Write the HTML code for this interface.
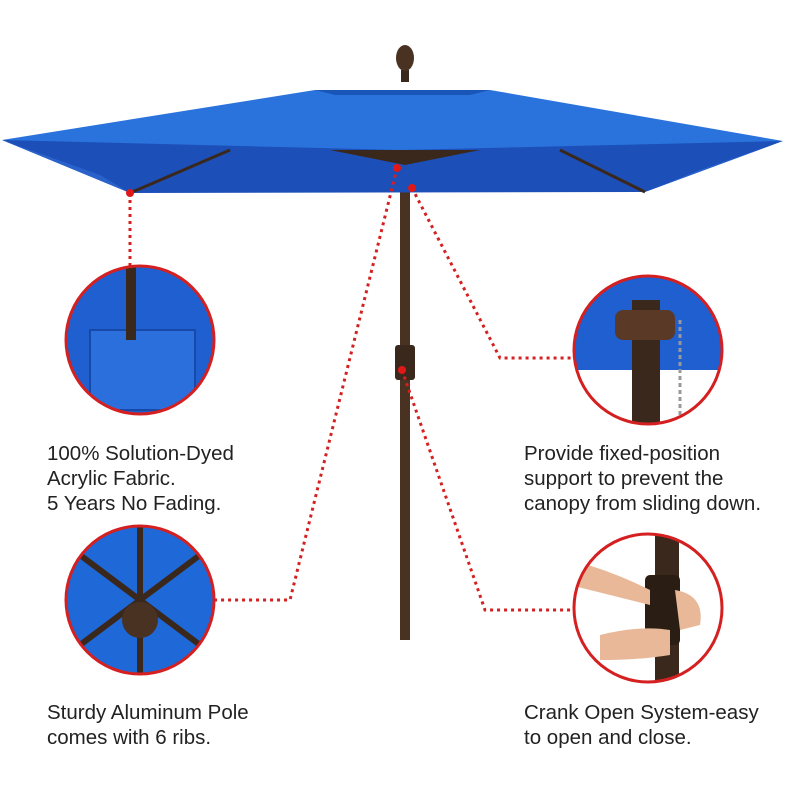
<!DOCTYPE html>
<html><head><style>
body{margin:0;background:#fff;width:795px;height:795px;overflow:hidden;position:relative;font-family:"Liberation Sans",sans-serif}
.t{position:absolute;font-size:20.5px;line-height:25px;color:#222}
svg{position:absolute;left:0;top:0}
</style></head><body>
<svg width="795" height="795" viewBox="0 0 795 795">
<defs>
<clipPath id="c1"><circle cx="140" cy="340" r="74"/></clipPath>
<clipPath id="c2"><circle cx="140" cy="600" r="74"/></clipPath>
<clipPath id="c3"><circle cx="648" cy="350" r="74"/></clipPath>
<clipPath id="c4"><circle cx="648" cy="608" r="74"/></clipPath>
</defs>
<rect x="400" y="150" width="10" height="490" fill="#4a3222"/>
<rect x="395" y="345" width="20" height="35" rx="3" fill="#3a281c"/>
<polygon points="2,140 130,193 645,192 783,141" fill="#1d4fb8"/>
<polygon points="2,140 130,193 100,175" fill="#2a62cc"/>
<polygon points="783,141 645,192 700,170" fill="#2a62cc"/>
<line x1="130" y1="193" x2="230" y2="150" stroke="#3a281c" stroke-width="3"/>
<line x1="645" y1="192" x2="560" y2="150" stroke="#3a281c" stroke-width="3"/>
<polygon points="330,150 405,165 480,150" fill="#3a281c"/>
<polygon points="2,140 315,90 490,90 783,141 400,150" fill="#2a73dc"/>
<polygon points="315,90 490,90 470,95 335,95" fill="#1a55b8"/>
<rect x="401" y="70" width="8" height="12" fill="#3a281c"/>
<ellipse cx="405" cy="58" rx="9" ry="13" fill="#4a3222"/>
<g stroke="#d42020" stroke-width="3" stroke-dasharray="3,4" fill="none">
<polyline points="130,193 130,270"/>
<polyline points="397,168 290,600 215,600"/>
<polyline points="412,188 500,358 575,358"/>
<polyline points="402,370 485,610 575,610"/>
</g>
<g fill="#e01818">
<circle cx="130" cy="193" r="4"/><circle cx="397" cy="168" r="4"/><circle cx="412" cy="188" r="4"/><circle cx="402" cy="370" r="4"/>
</g>
<g clip-path="url(#c1)"><rect x="60" y="260" width="160" height="160" fill="#1f5fd0"/>
<rect x="90" y="330" width="105" height="80" fill="#2a6fdc" stroke="#174aa8" stroke-width="2"/>
<rect x="126" y="260" width="10" height="80" fill="#3a281c"/></g>
<circle cx="140" cy="340" r="74" fill="none" stroke="#d42020" stroke-width="3"/>
<g clip-path="url(#c2)"><rect x="60" y="520" width="160" height="160" fill="#1f68d8"/>
<g stroke="#3a281c" stroke-width="6"><line x1="140" y1="600" x2="60" y2="540"/><line x1="140" y1="600" x2="220" y2="540"/><line x1="140" y1="600" x2="60" y2="660"/><line x1="140" y1="600" x2="220" y2="660"/><line x1="140" y1="600" x2="140" y2="520"/><line x1="140" y1="600" x2="140" y2="680"/></g>
<circle cx="140" cy="620" r="18" fill="#4a3222"/></g>
<circle cx="140" cy="600" r="74" fill="none" stroke="#d42020" stroke-width="3"/>
<g clip-path="url(#c3)"><rect x="570" y="270" width="160" height="160" fill="#fff"/>
<rect x="570" y="270" width="160" height="100" fill="#1f5fd0"/>
<rect x="632" y="300" width="28" height="140" fill="#3a281c"/>
<rect x="615" y="310" width="60" height="30" rx="8" fill="#5a3a26"/>
<line x1="680" y1="320" x2="680" y2="420" stroke="#999" stroke-width="3" stroke-dasharray="4,3"/></g>
<circle cx="648" cy="350" r="74" fill="none" stroke="#d42020" stroke-width="3"/>
<g clip-path="url(#c4)"><rect x="570" y="530" width="160" height="160" fill="#fff"/>
<rect x="655" y="530" width="24" height="160" fill="#3a281c"/>
<rect x="645" y="575" width="35" height="70" rx="5" fill="#2a1e14"/>
<path d="M570,560 Q610,570 650,590 L650,605 Q610,595 570,585Z" fill="#e8b898"/>
<path d="M600,635 Q640,625 670,630 L670,655 Q640,660 600,660Z" fill="#e8b898"/>
<path d="M675,590 Q705,595 700,625 L680,630Z" fill="#e8b898"/></g>
<circle cx="648" cy="608" r="74" fill="none" stroke="#d42020" stroke-width="3"/>
</svg>
<div class="t" style="left:47px;top:441px">100% Solution-Dyed<br>Acrylic Fabric.<br>5 Years No Fading.</div>
<div class="t" style="left:524px;top:441px">Provide fixed-position<br>support to prevent the<br>canopy from sliding down.</div>
<div class="t" style="left:47px;top:700px">Sturdy Aluminum Pole<br>comes with 6 ribs.</div>
<div class="t" style="left:524px;top:700px">Crank Open System-easy<br>to open and close.</div>
</body></html>
